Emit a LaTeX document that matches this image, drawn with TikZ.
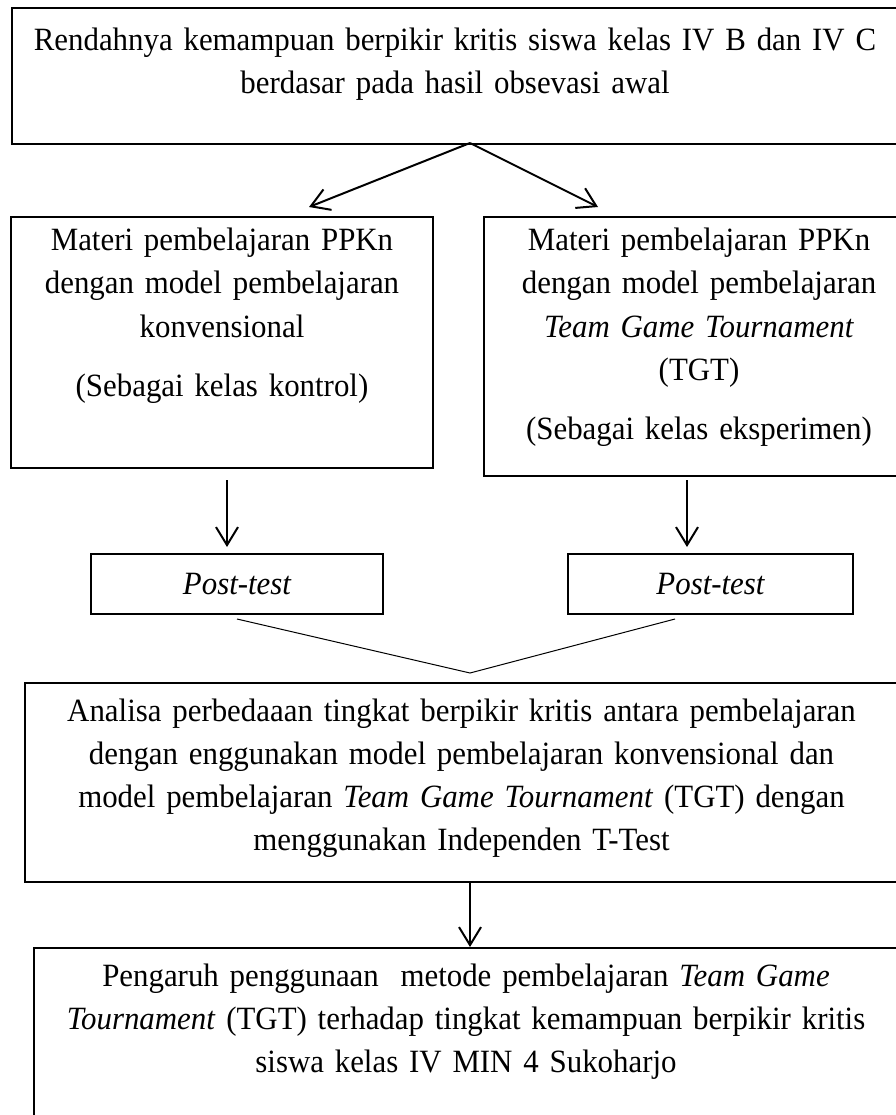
\documentclass[tikz,border=0pt]{standalone}
\usepackage{fontspec}
\setmainfont{Liberation Serif}[FakeStretch=0.95]
\usetikzlibrary{arrows.meta,positioning}
\tikzset{>={Straight Barb[length=18pt,width=22pt]},
  box/.style={draw,line width=2pt,rectangle,anchor=north west,align=center,inner sep=0pt,font=\fontsize{32.5}{43}\selectfont},
  testbox/.style={draw,line width=2pt,rectangle,anchor=north west,inner sep=0pt,font=\fontsize{32.5}{43}\selectfont\itshape},
  flow/.style={->,line width=2pt},
  meetline/.style={line width=1pt}}

\begin{document}
\begin{tikzpicture}[x=1pt,y=-1pt]
  \useasboundingbox (0,0) rectangle (895,1115);
  \node[box, text width=886pt, text height=43pt, text depth=93pt] (problem) at (11,7)
    {Rendahnya kemampuan berpikir kritis siswa kelas IV B dan IV C\\ berdasar pada hasil obsevasi awal};
  \node[box, text width=422pt, text height=34pt, text depth=217pt] (control) at (10,216)
    {Materi pembelajaran PPKn\\ dengan model pembelajaran\\ konvensional\\[16pt] (Sebagai kelas kontrol)};
  \node[box, text width=430pt, text height=34pt, text depth=225pt] (experiment) at (483,216)
    {Materi pembelajaran PPKn\\ dengan model pembelajaran\\ \textit{Team Game Tournament}\\ (TGT)\\[16pt] (Sebagai kelas eksperimen)};
  \node[testbox, minimum width=292pt, minimum height=60pt] (postL) at (90,553) {Post-test};
  \node[testbox, minimum width=285pt, minimum height=60pt] (postR) at (567,553) {Post-test};
  \node[box, text width=873pt, text height=38pt, text depth=161pt] (analysis) at (24,682)
    {Analisa perbedaaan tingkat berpikir kritis antara pembelajaran\\ dengan enggunakan model pembelajaran konvensional dan\\ model pembelajaran \textit{Team Game Tournament} (TGT) dengan\\ menggunakan Independen T-Test};
  \node[box, text width=864pt, text height=38pt, text depth=138pt] (result) at (33,947)
    {Pengaruh penggunaan\ \ metode pembelajaran \textit{Team Game}\\ \textit{Tournament} (TGT) terhadap tingkat kemampuan berpikir kritis\\ siswa kelas IV MIN 4 Sukoharjo};

  % arrows out of the first box
  \coordinate (split) at (470,143);
  \coordinate (toL) at (309,207);
  \coordinate (toR) at (598,207);
  \draw[flow] (split) -- (toL);
  \draw[flow] (split) -- (toR);

  % down to the post-tests
  \coordinate (downL) at (227,480);
  \coordinate (downR) at (687,480);
  \draw[flow, shorten >=6pt] (downL) -- (downL |- postL.north);
  \draw[flow, shorten >=6pt] (downR) -- (downR |- postR.north);

  % both post-tests meet above the analysis
  \coordinate (fromL) at (237,619);
  \coordinate (fromR) at (675,619);
  \coordinate (merge) at (470,673);
  \draw[meetline] (fromL) -- (merge) -- (fromR);

  \draw[flow] (analysis.south -| merge) -- (result.north -| merge);
\end{tikzpicture}
\end{document}
